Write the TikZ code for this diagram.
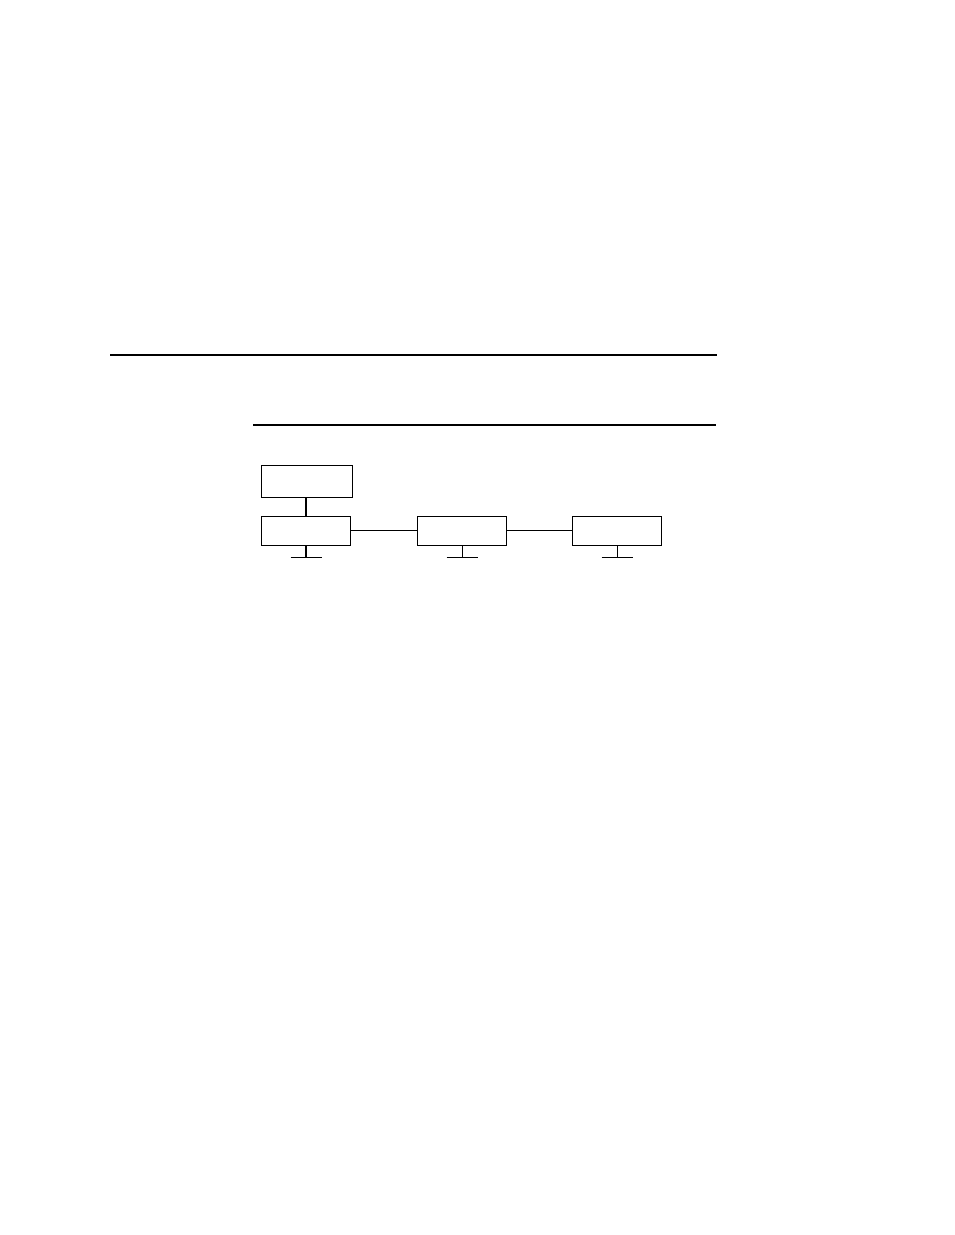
\documentclass[tikz,border=0pt]{standalone}
\usetikzlibrary{positioning}
\tikzset{
  unit/.style={draw,rectangle,minimum width=89pt,minimum height=29pt,inner sep=0pt},
  link/.style={line width=1.1pt}
}
\begin{document}
\begin{tikzpicture}[x=1pt,y=1pt,line width=1.1pt]
 \useasboundingbox (0,0) rectangle (954,1235);

 % horizontal rules
 \coordinate (topruleL) at (110,880);
 \coordinate (topruleR) at (717,880);
 \coordinate (subruleL) at (253,810);
 \coordinate (subruleR) at (716,810);
 \draw (topruleL) -- (topruleR);
 \draw (subruleL) -- (subruleR);

 \node[unit] (hostA) at (306,704.3) {};
 \node[unit,right=66pt of hostA] (hostB) {};
 \node[unit,right=65pt of hostB] (hostC) {};
 \node[unit,minimum width=91pt,minimum height=32pt,above=17.7pt of hostA,xshift=1pt] (server) {};

 \draw [link] (server.south -| hostA.north) -- (hostA.north);
 \draw [link] (hostA) -- (hostB);
 \draw [link] (hostB) -- (hostC);

 % ground stubs
 \foreach \n in {hostA,hostB,hostC} {
  \coordinate[below=11.7pt of \n.south] (\n gnd);
  \draw (\n.south) -- (\n gnd);
  \draw ([xshift=-15.5pt]\n gnd) -- ([xshift=15.5pt]\n gnd);
 }
\end{tikzpicture}
\end{document}
